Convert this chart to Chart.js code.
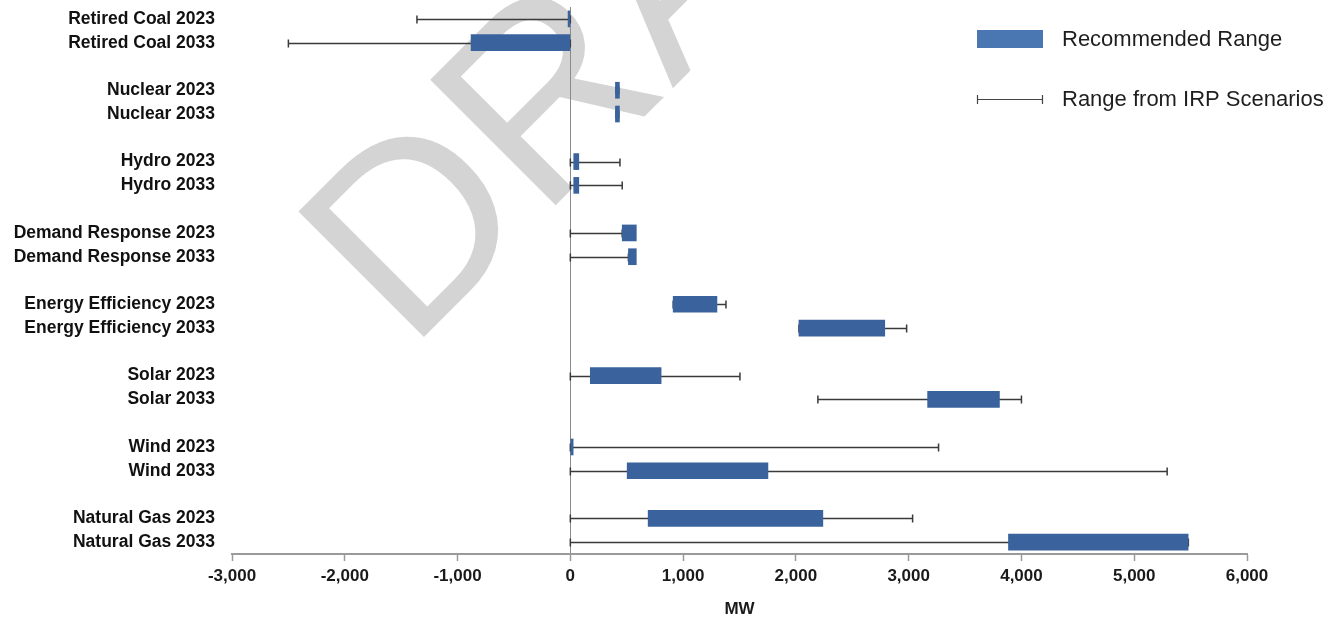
<!DOCTYPE html>
<html lang="en">
<head>
<meta charset="UTF-8">
<title>Recommended Range vs Range from IRP Scenarios</title>
<script src="https://cdn.jsdelivr.net/npm/chart.js"></script>
<style>
* { margin: 0; padding: 0; box-sizing: border-box; }
body { background: #fff; width: 1338px; height: 620px; overflow: hidden; }
#wrap { position: relative; width: 1338px; height: 620px; }
</style>
</head>
<body>
<div id="wrap"><canvas id="chart"></canvas></div>
<script>
// categories ('' = gap between resource groups)
const categories = [
    'Retired Coal 2023', 'Retired Coal 2033', '',
    'Nuclear 2023', 'Nuclear 2033', '',
    'Hydro 2023', 'Hydro 2033', '',
    'Demand Response 2023', 'Demand Response 2033', '',
    'Energy Efficiency 2023', 'Energy Efficiency 2033', '',
    'Solar 2023', 'Solar 2033', '',
    'Wind 2023', 'Wind 2033', '',
    'Natural Gas 2023', 'Natural Gas 2033'
];

// Recommended Range (MW)
const recLow  = [-20, -880, null, 400, 400, null, 30, 30, null, 460, 515, null, 912, 2027, null, 177, 3168, null, 0, 504, null, 690, 3885];
const recHigh = [0, 0, null, 435, 435, null, 75, 75, null, 585, 585, null, 1300, 2788, null, 805, 3805, null, 25, 1752, null, 2239, 5478];

// Range from IRP Scenarios (MW)
const irpLow  = [-1360, -2500, null, 405, 405, null, 0, 0, null, 0, 0, null, 912, 2027, null, 0, 2195, null, 0, 0, null, 0, 0];
const irpHigh = [0, 0, null, 430, 430, null, 440, 460, null, 460, 515, null, 1380, 2982, null, 1504, 4000, null, 3265, 5292, null, 3035, 5480];

const legendLabels = ['Recommended Range', 'Range from IRP Scenarios'];

const barColor = '#3a639d';
const lineColor = '#3a3a3a';

// whiskers drawn under the bars
const whiskerPlugin = {
    id: 'whiskers',
    beforeDatasetsDraw(chart) {
        const { ctx, scales: { x, y } } = chart;
        ctx.save();
        ctx.strokeStyle = lineColor;
        ctx.lineWidth = 1.5;
        categories.forEach((c, i) => {
            if (!c || irpLow[i] == null) return;
            const yy = Math.round(y.getPixelForValue(i)) + 0.5;
            const x0 = x.getPixelForValue(irpLow[i]);
            const x1 = x.getPixelForValue(irpHigh[i]);
            ctx.beginPath();
            ctx.moveTo(x0, yy); ctx.lineTo(x1, yy);
            ctx.moveTo(x0, yy - 4); ctx.lineTo(x0, yy + 4);
            ctx.moveTo(x1, yy - 4); ctx.lineTo(x1, yy + 4);
            ctx.stroke();
        });
        ctx.restore();
    }
};

// DRAFT watermark behind everything
const watermarkPlugin = {
    id: 'watermark',
    beforeDraw(chart) {
        const ctx = chart.ctx;
        ctx.save();
        ctx.translate(409, 352);
        ctx.rotate(-Math.PI / 4);
        ctx.font = '258px "Liberation Sans", Arial, sans-serif';
        ctx.fillStyle = '#d4d4d4';
        ctx.textBaseline = 'alphabetic';
        ctx.fillText('DRAFT', 0, 0);
        ctx.restore();
    }
};

// legend in the top right corner
const legendPlugin = {
    id: 'customLegend',
    afterDraw(chart) {
        const ctx = chart.ctx;
        ctx.save();
        ctx.fillStyle = '#4a77b1';
        ctx.fillRect(977, 30, 66, 18);

        ctx.strokeStyle = '#444';
        ctx.lineWidth = 1.2;
        ctx.beginPath();
        ctx.moveTo(977, 99.5); ctx.lineTo(1043, 99.5);
        ctx.moveTo(977.5, 95); ctx.lineTo(977.5, 104);
        ctx.moveTo(1042.5, 95); ctx.lineTo(1042.5, 104);
        ctx.stroke();

        ctx.fillStyle = '#1e1e1e';
        ctx.font = '22px "Liberation Sans", Arial, sans-serif';
        ctx.textBaseline = 'middle';
        ctx.fillText(legendLabels[0], 1062, 40);
        ctx.fillText(legendLabels[1], 1062, 100);
        ctx.restore();
    }
};

const ctx = document.getElementById('chart').getContext('2d');
new Chart(ctx, {
    type: 'bar',
    data: {
        labels: categories,
        datasets: [{
            label: legendLabels[0],
            data: categories.map((c, i) => c ? [recLow[i], recHigh[i]] : null),
            backgroundColor: barColor,
            borderWidth: 0,
            barThickness: 16
        }]
    },
    options: {
        indexAxis: 'y',
        responsive: true,
        maintainAspectRatio: false,
        animation: false,
        layout: { padding: { top: 7, right: 91, bottom: 0, left: 0 } },
        plugins: {
            legend: { display: false },
            tooltip: { enabled: false }
        },
        scales: {
            x: {
                type: 'linear',
                min: -3000,
                max: 6000,
                afterFit: s => { s.height = 66; },
                border: { display: true, color: '#9a9a9a', width: 2 },
                grid: {
                    color: c => (c.tick && c.tick.value === 0) ? '#8a8a8a' : 'rgba(0,0,0,0)',
                    lineWidth: 1,
                    drawTicks: true,
                    tickLength: 7,
                    tickColor: '#9a9a9a',
                    tickWidth: 1.5
                },
                ticks: {
                    stepSize: 1000,
                    padding: 5,
                    color: '#1a1a1a',
                    font: { family: '"Liberation Sans", Arial, sans-serif', size: 17, weight: 'bold' },
                    callback: v => v.toLocaleString('en-US')
                },
                title: {
                    display: true,
                    text: 'MW',
                    color: '#1a1a1a',
                    padding: { top: 0, bottom: 0 },
                    font: { family: '"Liberation Sans", Arial, sans-serif', size: 17, weight: 'bold' }
                }
            },
            y: {
                type: 'category',
                offset: true,
                afterFit: s => {
                    s.width = 232;
                    s.paddingTop = 0;
                    s.paddingBottom = 0;
                },
                border: { display: false },
                grid: { display: false, drawTicks: false },
                ticks: {
                    autoSkip: false,
                    padding: 17,
                    color: '#111',
                    font: { family: '"Liberation Sans", Arial, sans-serif', size: 17.5, weight: 'bold' }
                }
            }
        }
    },
    plugins: [watermarkPlugin, whiskerPlugin, legendPlugin]
});
</script>
</body>
</html>
